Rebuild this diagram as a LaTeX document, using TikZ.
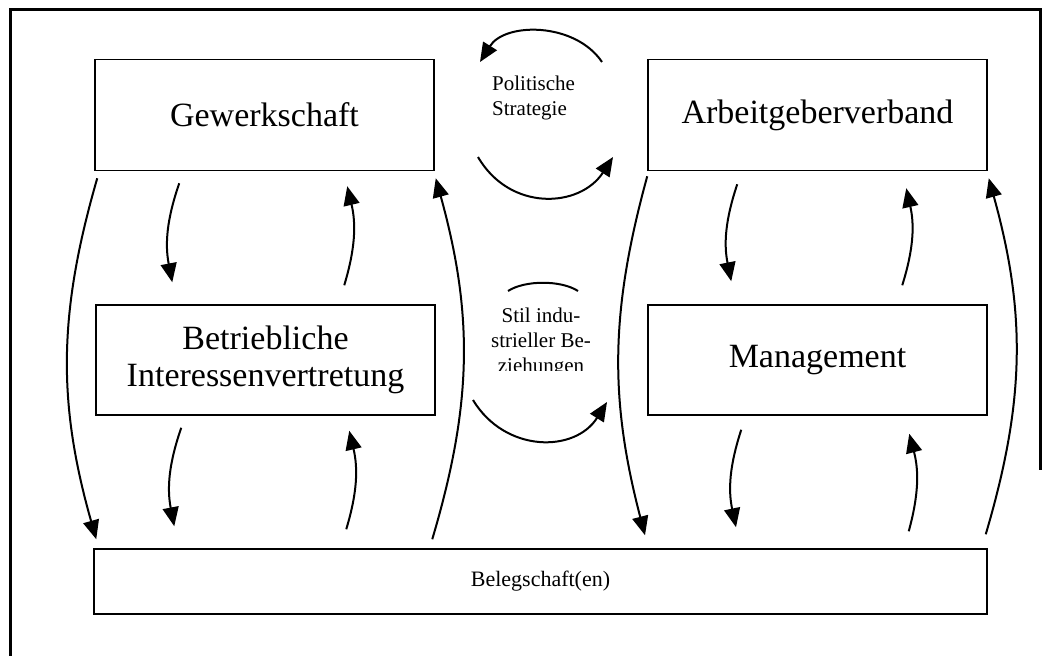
\documentclass[tikz,border=0pt]{standalone}
\usepackage{fontspec}
\setmainfont{Liberation Serif}
\usetikzlibrary{arrows.meta}
\tikzset{
  kasten/.style={draw, line width=1.5pt, minimum width=339pt, minimum height=111pt,
    inner sep=0pt, align=center, font=\fontsize{34}{37}\selectfont},
  pfeil/.style={line width=2pt, -{Triangle[length=19pt,width=16pt]}},
  bogen/.style={line width=2pt},
  klein/.style={inner sep=0pt, font=\fontsize{21}{25}\selectfont}
}

\begin{document}
\begin{tikzpicture}[x=1pt,y=-1pt]
\useasboundingbox (0,0) rectangle (1055,656);
\draw[line width=3pt] (10,656) -- (10,9) -- (1040,9) -- (1040,470);
% Kaesten
\node[kasten] (gew) at (264.5,115) {Gewerkschaft};
\node[kasten] (arb) at (817.5,115) {Arbeitgeberverband};
\node[kasten, minimum height=110pt] (biv) at (265.5,360) {Betriebliche\\Interessenvertretung};
\node[kasten, minimum height=110pt] (man) at (817.5,360) {Management};
\node[kasten, minimum width=893pt, minimum height=65pt,
  font=\fontsize{22}{26}\selectfont] (beleg) at (540.5,581.5) {Belegschaft(en)};
% Mitte
\node[klein, align=left, anchor=west] (pol) at (492,97.5) {Politische\\Strategie};
\begin{scope}
  \clip (470,290) rectangle (615,370);
  \node[klein, align=center] (stil) at (541,342) {Stil indu-\\strieller Be-\\ziehungen};
\end{scope}
\coordinate (polR) at (602,62);
\coordinate (polL) at (480,62);
\coordinate (polU) at (478,157);
\coordinate (polV) at (613,157);
\coordinate (stilL) at (508,291);
\coordinate (stilR) at (578,291);
\coordinate (stilU) at (473,400);
\coordinate (stilV) at (607,402);
\draw[pfeil] (polR) .. controls (575,22) and (505,22) .. (polL);
\draw[pfeil] (polU) .. controls (510,212) and (580,208) .. (polV);
\draw[bogen] (stilL) .. controls (525,280) and (561,280) .. (stilR);
\draw[pfeil] (stilU) .. controls (505,453) and (575,453) .. (stilV);
% linke Seite
\draw[pfeil] ([shift={(3,7)}]gew.south west) to[bend right=16] ([shift={(3,-9)}]beleg.north west);
\draw[pfeil] ([shift={(85,12)}]gew.south west) to[bend right=15] ([shift={(77,-22)}]biv.north west);
\draw[pfeil] ([shift={(249,-19)}]biv.north west) to[bend right=15] ([shift={(253,15)}]gew.south west);
\draw[pfeil] ([shift={(339,-9)}]beleg.north west) to[bend right=16] ([shift={(1,7)}]gew.south east);
\draw[pfeil] ([shift={(86,12)}]biv.south west) to[bend right=15] ([shift={(81,-22)}]beleg.north west);
\draw[pfeil] ([shift={(253,-19)}]beleg.north west) to[bend right=15] ([shift={(254,15)}]biv.south west);
% rechte Seite
\draw[pfeil] ([shift={(0,5)}]arb.south west) to[bend right=15] ([shift={(104.5,-13)}]beleg.north);
\draw[pfeil] ([shift={(90,13)}]arb.south west) to[bend right=15] ([shift={(84,-23)}]man.north west);
\draw[pfeil] ([shift={(255,-19)}]man.north west) to[bend right=15] ([shift={(259,17)}]arb.south west);
\draw[pfeil] ([shift={(-2,-14)}]beleg.north east) to[bend right=16] ([shift={(1,7)}]arb.south east);
\draw[pfeil] ([shift={(94,14)}]man.south west) to[bend right=15] ([shift={(195.5,-21)}]beleg.north);
\draw[pfeil] ([shift={(-79,-17)}]beleg.north east) to[bend right=15] ([shift={(262,18)}]man.south west);
\end{tikzpicture}
\end{document}
